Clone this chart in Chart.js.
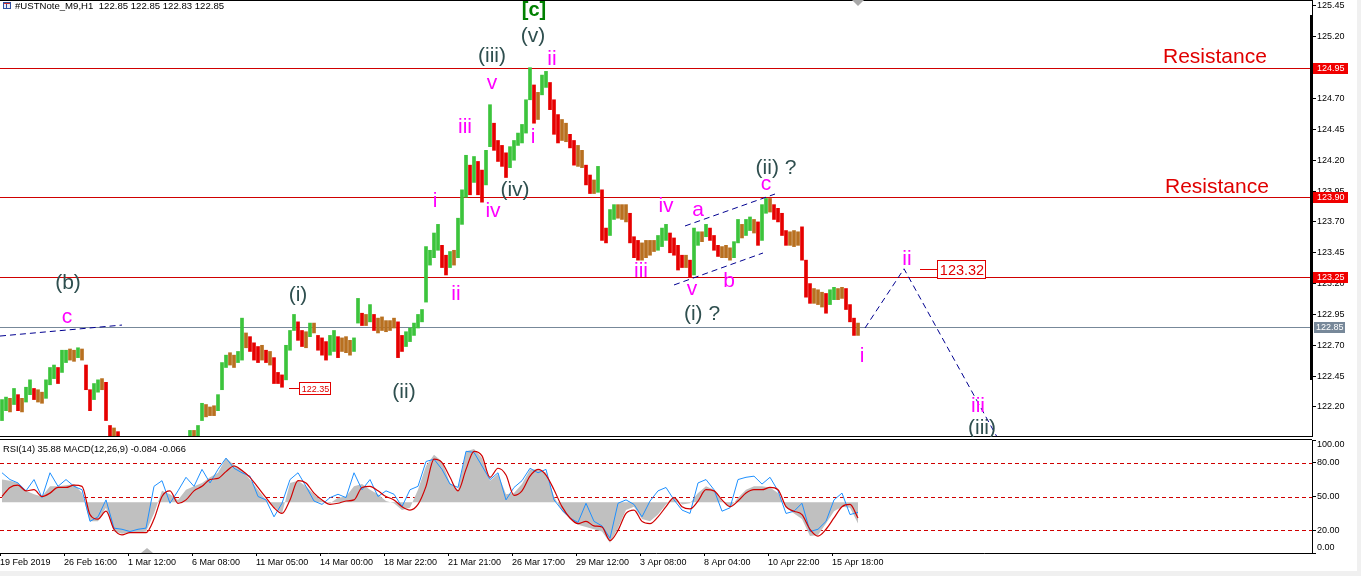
<!DOCTYPE html>
<html><head><meta charset="utf-8">
<script src="https://cdn.jsdelivr.net/npm/chart.js@4.4.1/dist/chart.umd.min.js"></script>
<style>
html,body{margin:0;padding:0;background:#f0f0f0;overflow:hidden;width:1361px;height:576px;}
#wrap{position:absolute;left:0;top:0;width:1357px;height:571px;background:#fff;}
#c1{position:absolute;left:0;top:0;}
#c2{position:absolute;left:0;top:437px;}
</style></head><body>
<div id="wrap">
<canvas id="c1" width="1357" height="437"></canvas>
<canvas id="c2" width="1357" height="134"></canvas>
</div>
<script>
// ---------- DATA (H1 candles aggregated) ----------
const highs = [
122.26,122.28,122.27,122.35,122.30,122.27,122.36,122.42,122.35,122.34,
122.32,122.42,122.52,122.54,122.52,122.66,122.66,122.67,122.66,122.68,
122.67,122.54,122.34,122.39,122.42,122.43,122.40,122.05,122.03,122.00,
121.92,121.88,121.85,121.86,121.83,121.80,121.82,121.84,121.81,121.79,
121.82,121.85,121.83,121.86,121.89,121.92,121.94,
122.01,122.01,122.05,122.23,122.22,122.20,122.21,122.30,122.56,122.62,122.64,122.62,122.65,
122.92,122.80,122.77,122.72,122.69,122.70,122.66,122.65,122.60,122.48,
122.46,122.70,122.82,122.95,122.89,122.82,122.81,122.88,122.88,122.78,
122.76,122.73,122.78,122.82,122.77,122.76,122.77,122.74,122.76,123.08,
122.96,122.95,123.03,122.95,122.92,122.93,122.90,122.90,122.92,122.89,
122.78,122.81,122.84,122.88,122.95,122.99,123.50,123.47,123.61,123.68,
123.51,123.43,123.46,123.47,123.73,123.96,124.24,124.16,124.23,124.19,
124.12,124.28,124.65,124.50,124.36,124.32,124.26,124.31,124.36,124.42,
124.49,124.69,124.95,124.81,124.75,124.89,124.92,124.83,124.69,124.57,
124.53,124.50,124.41,124.36,124.32,124.28,124.16,124.08,124.04,124.15,
123.96,123.65,123.80,123.84,123.84,123.84,123.84,123.77,123.58,123.55,
123.53,123.55,123.55,123.55,123.59,123.65,123.68,123.61,123.57,123.51,
123.43,123.43,123.39,123.65,123.62,123.62,123.68,123.65,123.59,123.51,
123.50,123.51,123.49,123.54,123.72,123.68,123.72,123.74,123.72,123.70,
123.84,123.89,123.89,123.84,123.81,123.77,123.63,123.62,123.63,123.62,
123.66,123.39,123.20,123.16,123.15,123.13,123.12,123.15,123.17,123.16,
123.17,123.16,123.03,122.92,122.88];
const lows = [
122.09,122.17,122.16,122.22,122.17,122.16,122.24,122.30,122.26,122.24,
122.23,122.27,122.38,122.43,122.39,122.48,122.56,122.58,122.57,122.60,
122.58,122.34,122.17,122.26,122.32,122.34,122.09,121.96,121.93,121.85,
121.80,121.76,121.74,121.75,121.72,121.70,121.71,121.73,121.70,121.68,
121.72,121.74,121.73,121.76,121.78,121.81,121.84,
121.89,121.93,121.96,122.09,122.12,122.13,122.13,122.17,122.34,122.52,122.54,122.52,122.56,
122.58,122.68,122.65,122.58,122.56,122.58,122.56,122.54,122.39,122.39,
122.36,122.42,122.66,122.82,122.74,122.69,122.68,122.77,122.80,122.66,
122.62,122.58,122.62,122.65,122.60,122.65,122.64,122.62,122.65,122.88,
122.86,122.86,122.89,122.82,122.80,122.82,122.81,122.82,122.84,122.60,
122.65,122.69,122.73,122.78,122.84,122.89,123.05,123.35,123.41,123.47,
123.33,123.27,123.33,123.35,123.41,123.68,123.90,123.92,124.02,123.92,
123.86,124.00,124.31,124.28,124.19,124.15,124.06,124.14,124.20,124.32,
124.34,124.42,124.69,124.50,124.53,124.73,124.79,124.61,124.41,124.34,
124.36,124.35,124.30,124.16,124.15,124.14,124.00,123.93,123.93,123.94,
123.55,123.53,123.59,123.72,123.73,123.72,123.70,123.53,123.41,123.39,
123.39,123.41,123.43,123.46,123.47,123.50,123.55,123.45,123.43,123.31,
123.33,123.33,123.25,123.27,123.51,123.54,123.58,123.55,123.47,123.42,
123.41,123.41,123.39,123.41,123.53,123.57,123.59,123.63,123.61,123.51,
123.55,123.77,123.78,123.72,123.70,123.59,123.51,123.51,123.50,123.51,
123.39,123.09,123.04,123.04,123.03,123.01,122.96,123.03,123.07,123.07,
123.08,122.99,122.89,122.78,122.78];

// indicator samples (every second slot)
const rsi = [
71,65,62,55,65,49,71,59,65,59, 56,28,32,47,22,21,19,21,22,59,
64,44,55,67,59,74,62,74,84,75, 71,68,50,47,32,44,65,71,59,46,
43,49,52,49,71,56,65,50,55,52, 41,56,59,81,83,74,61,58,90,89,
77,65,71,47,58,64,75,71,74,47, 38,31,27,44,28,24,13,44,47,43,
32,46,55,58,47,38,35,62,65,56, 37,40,65,67,68,61,67,55,35,37,
44,19,21,28,47,53,34,36];
const macdHist = [
65,64,62,55,52,50,59,59,60,61, 53,28,28,40,19,17,18,18,19,35,
55,52,47,56,59,62,67,71,84,78, 74,65,56,47,41,35,62,64,59,52,
46,44,49,50,59,61,56,52,46,44, 38,40,56,77,87,81,62,56,90,92,
84,64,70,52,53,61,74,74,71,50, 37,30,25,23,21,19,9,22,38,41,
30,28,34,43,50,43,44,53,59,56, 46,40,49,56,59,59,58,53,40,35,
30,15,16,26,37,41,40,26];
const macdSignal = [
50,58,60,55,56,50,53,58,58,60, 59,34,30,37,21,16,18,18,18,30,
50,55,44,47,55,59,65,66,72,77, 73,67,58,49,40,35,47,64,62,53,
47,43,44,46,47,58,59,55,50,47, 41,38,43,59,83,80,67,55,74,90,
86,67,75,69,51,55,68,74,69,56, 41,31,26,28,24,23,11,20,35,38,
28,26,32,41,49,41,39,46,56,55, 47,41,46,53,56,56,58,56,41,37,
34,21,15,21,31,41,43,31];
const macdZero = 45;

const priceTicks = [125.45,125.20,124.95,124.70,124.45,124.20,123.95,123.70,123.45,123.20,122.95,122.70,122.45,122.20];
const timeLabels = ['19 Feb 2019','26 Feb 16:00','1 Mar 12:00','6 Mar 08:00','11 Mar 05:00','14 Mar 00:00','18 Mar 22:00','21 Mar 21:00','26 Mar 17:00','29 Mar 12:00','3 Apr 08:00','8 Apr 04:00','10 Apr 22:00','15 Apr 18:00'];
const rsiLevels = [80,50,20];
const rsiTicks = [100,80,50,20,0];
const resistanceLevels = [124.95,123.90,123.25];
const lastPrice = 122.85;
const headerOHLC = [122.85,122.85,122.83,122.85];
const rsiLast = 35.88, macdMain = -0.084, macdSig = -0.066;

// dashed guide lines (slot, price)
const trendC = {xs:[-0.5,30], ys:[122.775,122.864]};
const chanUpper = {xs:[170.75,193.25], ys:[123.667,123.926]};
const chanLower = {xs:[168,190.25], ys:[123.189,123.448]};
const projection = {xs:[215.75,225.5,248.75], ys:[122.84,123.32,121.957]};

// ---------- annotations ----------
const waveLabels = [
 ['(b)',16.5,123.156,'d'],['c',16.25,122.881,'m'],['(i)',74,123.059,'d'],['(ii)',100.5,122.273,'d'],
 ['i',108.25,123.821,'m'],['ii',113.5,123.067,'m'],['iii',115.75,124.421,'m'],['iv',122.75,123.740,'m'],
 ['v',122.5,124.777,'m'],['(iii)',122.5,124.996,'d'],['(iv)',128.25,123.910,'d'],['(v)',132.75,125.158,'d'],
 ['[c]',133,125.369,'g'],['i',132.75,124.340,'m'],['ii',137.5,124.972,'m'],['iii',159.75,123.254,'m'],
 ['iv',166,123.780,'m'],['v',172.5,123.108,'m'],['a',174,123.748,'m'],['b',181.75,123.173,'m'],
 ['c',191,123.959,'m'],['(ii) ?',193.5,124.088,'d'],['(i) ?',175,122.905,'d'],['i',215,122.565,'m'],
 ['ii',226.25,123.351,'m'],['iii',244,122.159,'m'],['(iii)',245,121.981,'d']];
const resistanceTexts = [['Resistance',290.25,124.992],['Resistance',290.75,123.938]];
const priceTags = [{value:123.32,slot:229.5,line:17,w:48,h:18,font:14.5},{value:122.35,slot:71.75,line:10,w:31,h:12,font:9}];

const FONT = "'Liberation Sans', Arial, sans-serif";
const xMin = -0.5, xMax = 327.5;
const yMin = 121.9567, yMax = 125.4986;
const colUp='#3CC43C', colDn='#E60000', colMix='#B87020';
const candleColors = highs.map((h,i)=>{
  if(i===0) return colUp;
  const d = (h+lows[i])/2 - (highs[i-1]+lows[i-1])/2;
  return d>0.025?colUp:(d<-0.025?colDn:colMix);
});
const labelColors = {d:'#2F4F4F', m:'#FF00FF', g:'#008000'};

Chart.defaults.font.family = FONT;
Chart.defaults.font.size = 9;
Chart.defaults.color = '#000';

const deco1 = {
  id:'deco1',
  beforeDatasetsDraw(chart){
    const {ctx, chartArea:a, scales:{y}} = chart;
    ctx.save();
    ctx.lineWidth=1;
    resistanceLevels.forEach(v=>{
      const py=Math.round(y.getPixelForValue(v))+0.5;
      ctx.strokeStyle='#D00000'; ctx.beginPath(); ctx.moveTo(a.left,py); ctx.lineTo(a.right,py); ctx.stroke();
    });
    const py=Math.round(y.getPixelForValue(lastPrice))+0.5;
    ctx.strokeStyle='#778899'; ctx.beginPath(); ctx.moveTo(a.left,py); ctx.lineTo(a.right,py); ctx.stroke();
    ctx.restore();
  },
  afterDraw(chart){
    const {ctx, chartArea:a, scales:{x,y}} = chart;
    ctx.save();
    // frame
    ctx.strokeStyle='#000'; ctx.lineWidth=1;
    ctx.beginPath(); ctx.moveTo(0,0.5); ctx.lineTo(a.right,0.5); ctx.moveTo(0,436.5); ctx.lineTo(a.right,436.5); ctx.stroke();
    ctx.fillStyle='#000'; ctx.fillRect(a.right-2,15,3,365);
    // shift marker
    ctx.fillStyle='#A8A8A8'; ctx.beginPath(); ctx.moveTo(852,0); ctx.lineTo(864,0); ctx.lineTo(858,6); ctx.closePath(); ctx.fill();
    // axis tags
    ctx.font='9px '+FONT; ctx.textBaseline='middle'; ctx.textAlign='left';
    resistanceLevels.forEach(v=>{
      const py=Math.round(y.getPixelForValue(v));
      ctx.fillStyle='#F00000'; ctx.fillRect(a.right+1,py-5,35,11);
      ctx.fillStyle='#fff'; ctx.fillText(v.toFixed(2),a.right+5,py+0.5);
    });
    {const py=Math.round(y.getPixelForValue(lastPrice));
     ctx.fillStyle='#778899'; ctx.fillRect(a.right+2,py-5,31,11);
     ctx.fillStyle='#fff'; ctx.fillText(lastPrice.toFixed(2),a.right+4,py+0.5);}
    // header
    ctx.fillStyle='#E8ECF8'; ctx.fillRect(3,2,8,7);
    ctx.strokeStyle='#3050A0'; ctx.strokeRect(3.5,2.5,7,6);
    ctx.fillStyle='#D03030'; ctx.fillRect(4,3,6,1);
    ctx.fillStyle='#3050A0'; ctx.fillRect(6,4,1,4);
    ctx.fillStyle='#000'; ctx.font='9.6px '+FONT; ctx.textBaseline='alphabetic';
    ctx.fillText('#USTNote_M9,H1  '+headerOHLC.map(v=>v.toFixed(2)).join(' '),15,9);
    // clip to chart area for labels
    ctx.beginPath(); ctx.rect(a.left,a.top+1,a.right-a.left,a.bottom-a.top-1); ctx.clip();
    ctx.textAlign='center';
    waveLabels.forEach(([t,sx,sy,c])=>{
      ctx.font=(c==='g'?'bold 20px ':'21px ')+FONT;
      ctx.fillStyle=labelColors[c];
      ctx.fillText(t,x.getPixelForValue(sx),y.getPixelForValue(sy));
    });
    ctx.textAlign='left'; ctx.font='21px '+FONT; ctx.fillStyle='#E00000';
    resistanceTexts.forEach(([t,sx,sy])=>ctx.fillText(t,x.getPixelForValue(sx),y.getPixelForValue(sy)));
    // price tags
    priceTags.forEach(p=>{
      const px=Math.round(x.getPixelForValue(p.slot)), py=Math.round(y.getPixelForValue(p.value))+0.5;
      ctx.strokeStyle='#E00000'; ctx.lineWidth=1;
      ctx.beginPath(); ctx.moveTo(px,py); ctx.lineTo(px+p.line,py); ctx.stroke();
      ctx.fillStyle='#fff'; ctx.fillRect(px+p.line,py-p.h/2,p.w,p.h);
      ctx.strokeRect(px+p.line+0.5,py-p.h/2,p.w,p.h);
      ctx.fillStyle='#E00000'; ctx.font=p.font+'px '+FONT; ctx.textAlign='center'; ctx.textBaseline='middle';
      ctx.fillText(p.value.toFixed(2),px+p.line+p.w/2+1,py+1);
      ctx.textAlign='left'; ctx.textBaseline='alphabetic';
    });
    ctx.restore();
  }
};

const lineDs = l => ({type:'line', data:l.xs.map((v,j)=>({x:v,y:l.ys[j]})), borderColor:'#000090', borderWidth:1, borderDash:[6,4], pointRadius:0, fill:false, tension:0, order:0});

new Chart(document.getElementById('c1'), {
  type:'bar',
  data:{datasets:[
    {type:'bar', data:highs.map((h,i)=>({x:i,y:[lows[i],h]})), backgroundColor:candleColors, barThickness:3, grouped:false, borderWidth:0, order:1},
    lineDs(trendC), lineDs(chanUpper), lineDs(chanLower), lineDs(projection)
  ]},
  options:{
    responsive:false, animation:false, events:[],
    layout:{padding:0},
    plugins:{legend:{display:false}, tooltip:{enabled:false}},
    scales:{
      x:{type:'linear', min:xMin, max:xMax, display:false, offset:false, grid:{offset:false}},
      y:{position:'right', min:yMin, max:yMax,
         afterBuildTicks:s=>{s.ticks=priceTicks.map(v=>({value:v}));},
         afterFit:s=>{s.width=45; s.paddingTop=0; s.paddingBottom=0;},
         ticks:{callback:v=>Number(v).toFixed(2), padding:1, autoSkip:false, color:'#000', font:{size:9}},
         grid:{drawOnChartArea:false, drawTicks:true, tickLength:4, tickColor:'#000'},
         border:{display:true, color:'#000'}}
    }
  },
  plugins:[deco1]
});

const deco2 = {
  id:'deco2',
  beforeDatasetsDraw(chart){
    const {ctx, chartArea:a, scales:{y}} = chart;
    ctx.save(); ctx.strokeStyle='#D00000'; ctx.lineWidth=1; ctx.setLineDash([4,3]);
    rsiLevels.forEach(v=>{const py=Math.round(y.getPixelForValue(v))+0.5; ctx.beginPath(); ctx.moveTo(a.left,py); ctx.lineTo(a.right,py); ctx.stroke();});
    ctx.restore();
  },
  afterDraw(chart){
    const {ctx, chartArea:a} = chart;
    ctx.save();
    ctx.strokeStyle='#000'; ctx.lineWidth=1;
    ctx.beginPath(); ctx.moveTo(0,2.5); ctx.lineTo(a.right,2.5); ctx.stroke();
    ctx.fillStyle='#000'; ctx.font='9px '+FONT; ctx.textBaseline='middle'; ctx.textAlign='left';
    ctx.fillText('100.00',a.right+5,7.5);
    ctx.fillText('0.00',a.right+5,110.5);
    ctx.font='9.3px '+FONT;
    ctx.fillText('RSI(14) '+rsiLast.toFixed(2)+' MACD(12,26,9) '+macdMain.toFixed(3)+' '+macdSig.toFixed(3),3,12);
    ctx.fillStyle='#B8B8B8'; ctx.beginPath(); ctx.moveTo(141,a.bottom); ctx.lineTo(153,a.bottom); ctx.lineTo(147,a.bottom-5); ctx.closePath(); ctx.fill();
    ctx.restore();
  }
};

const pts = arr => arr.map((v,k)=>({x:k*2, y:v}));
new Chart(document.getElementById('c2'), {
  type:'line',
  data:{datasets:[
    {data:pts(macdSignal), borderColor:'#D00000', borderWidth:1.2, pointRadius:0, cubicInterpolationMode:'monotone', fill:false, order:0},
    {data:pts(rsi), borderColor:'#1E90FF', borderWidth:1, pointRadius:0, tension:0, fill:false, order:1},
    {data:pts(macdHist), borderWidth:0, borderColor:'rgba(0,0,0,0)', backgroundColor:'#C0C0C0', fill:{value:macdZero}, pointRadius:0, tension:0, order:2}
  ]},
  options:{
    responsive:false, animation:false, events:[],
    layout:{padding:{top:3,left:0,right:0,bottom:0}},
    plugins:{legend:{display:false}, tooltip:{enabled:false}},
    scales:{
      x:{type:'linear', min:xMin, max:xMax, offset:false,
         afterBuildTicks:s=>{s.ticks=timeLabels.map((t,i)=>({value:xMin+16*i}));},
         afterFit:s=>{s.height=18; s.paddingLeft=0; s.paddingRight=0;},
         ticks:{callback:(v,i)=>timeLabels[i], align:'start', autoSkip:false, maxRotation:0, minRotation:0, padding:1, color:'#000', font:{size:9}},
         grid:{drawOnChartArea:false, drawTicks:true, tickLength:3, tickColor:'#000'},
         border:{display:true, color:'#000'}},
      y:{position:'right', min:0, max:100,
         afterBuildTicks:s=>{s.ticks=rsiTicks.map(v=>({value:v}));},
         afterFit:s=>{s.width=45; s.paddingTop=0; s.paddingBottom=0;},
         ticks:{callback:v=>(v===100||v===0)?'':Number(v).toFixed(2), padding:1, autoSkip:false, color:'#000', font:{size:9}},
         grid:{drawOnChartArea:false, drawTicks:true, tickLength:4, tickColor:'#000'},
         border:{display:true, color:'#000'}}
    }
  },
  plugins:[deco2]
});
</script>
</body></html>
